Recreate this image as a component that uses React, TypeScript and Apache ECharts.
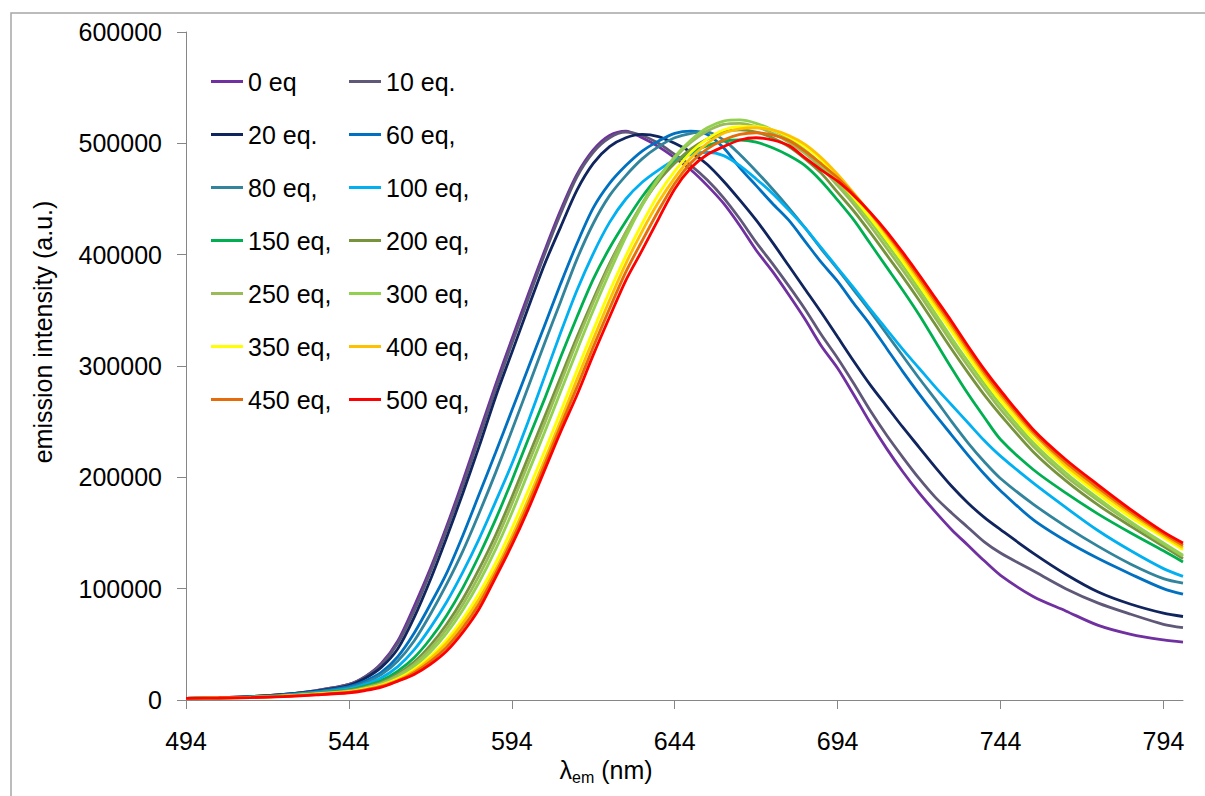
import React, { useEffect, useRef } from "react";
import * as echarts from "echarts";

const wavelengths = [494, 504, 514, 524, 534, 544, 549, 554, 559, 564, 569, 574, 579, 584, 589, 594, 599, 604, 609, 614, 619, 624, 629, 634, 639, 644, 649, 654, 659, 664, 669, 674, 679, 684, 689, 694, 699, 704, 709, 714, 719, 724, 729, 734, 739, 744, 754, 764, 774, 784, 794, 800];

const xTicks = [494, 544, 594, 644, 694, 744, 794];

const seriesNames = ["0 eq", "10 eq.", "20 eq.", "60 eq,", "80 eq,", "100 eq,", "150 eq,", "200 eq,", "250 eq,", "300 eq,", "350 eq,", "400 eq,", "450 eq,", "500 eq,"];
const seriesColors = ["#7030A0", "#5F5878", "#10255E", "#0070C0", "#31849B", "#00B0F0", "#00B050", "#77933C", "#9BBB59", "#92D050", "#FFFF00", "#FFC000", "#E46C0A", "#FF0000"];

const leftLegend = ["0 eq", "20 eq.", "80 eq,", "150 eq,", "250 eq,", "350 eq,", "450 eq,"];
const rightLegend = ["10 eq.", "60 eq,", "100 eq,", "200 eq,", "300 eq,", "400 eq,", "500 eq,"];

const eq0 = [1500, 2000, 3000, 5000, 8500, 14000, 21000, 33000, 53000, 84000, 118000, 156000, 197000, 240000, 283000, 324000, 364000, 403000, 440000, 472000, 494000, 507000, 511000, 505000, 497000, 487000, 476000, 462000, 446000, 426000, 404000, 385000, 364000, 342000, 318000, 298000, 274000, 249000, 226000, 205000, 186000, 169000, 153000, 139000, 125000, 112000, 93000, 80000, 67000, 59000, 54000, 52000];
const eq10 = [1500, 2000, 3000, 5000, 8500, 14000, 21000, 32000, 51000, 80000, 115000, 153000, 193000, 236000, 279000, 320000, 360000, 400000, 437000, 470000, 492000, 505000, 510000, 507000, 500000, 490000, 480000, 467000, 451000, 432000, 411000, 392000, 372000, 351000, 328000, 307000, 284000, 260000, 238000, 218000, 199000, 182000, 168000, 155000, 142000, 132000, 116000, 100000, 87000, 77000, 68000, 65000];
const eq20 = [1500, 2000, 3000, 5000, 8000, 13000, 19500, 29500, 46000, 74000, 108000, 146000, 186000, 228000, 272000, 312000, 352000, 391000, 425000, 458000, 482000, 497000, 505000, 508000, 506000, 500000, 492000, 481000, 466000, 449000, 431000, 411000, 390000, 369000, 348000, 326000, 304000, 283000, 264000, 245000, 227000, 209000, 192000, 177000, 164000, 153000, 132000, 113000, 97000, 86000, 78000, 75000];
const eq60 = [1500, 2000, 2800, 4500, 7500, 12000, 17000, 25000, 39000, 60000, 86000, 114000, 148000, 185000, 222000, 260000, 298000, 336000, 374000, 410000, 442000, 464000, 480000, 493000, 502000, 509000, 511000, 508000, 496000, 478000, 462000, 446000, 431000, 412000, 393000, 376000, 356000, 337000, 316000, 295000, 275000, 256000, 238000, 220000, 203000, 188000, 162000, 143000, 127000, 113000, 100000, 95000];
const eq80 = [1500, 2000, 2700, 4300, 7000, 11000, 15500, 23000, 35000, 53000, 77000, 104000, 134000, 168000, 204000, 242000, 281000, 320000, 358000, 396000, 428000, 453000, 471000, 486000, 497000, 505000, 509000, 510000, 503000, 490000, 475000, 459000, 442000, 424000, 405000, 387000, 368000, 349000, 329000, 309000, 289000, 270000, 250000, 231000, 214000, 199000, 176000, 156000, 138000, 122000, 109000, 105000];
const eq100 = [1500, 2000, 2600, 4000, 6500, 10000, 14000, 20000, 30000, 45000, 65000, 88000, 115000, 145000, 178000, 212000, 250000, 290000, 330000, 368000, 401000, 429000, 450000, 465000, 476000, 485000, 490000, 492000, 489000, 480000, 468000, 455000, 440000, 424000, 406000, 388000, 370000, 351000, 333000, 315000, 298000, 281000, 265000, 249000, 233000, 219000, 195000, 173000, 152000, 134000, 118000, 111000];
const eq150 = [1500, 1900, 2500, 3800, 6000, 9000, 12500, 17500, 26000, 38000, 55000, 76000, 101000, 130000, 162000, 197000, 234000, 270000, 308000, 344000, 378000, 406000, 430000, 452000, 470000, 483000, 492000, 498000, 502000, 503000, 501000, 496000, 489000, 480000, 466000, 449000, 431000, 410000, 389000, 368000, 346000, 322000, 298000, 275000, 254000, 234000, 207000, 186000, 167000, 150000, 134000, 124000];
const eq200 = [1500, 1900, 2500, 3700, 5800, 8500, 11500, 16000, 23500, 34000, 49000, 68000, 91000, 118000, 148000, 182000, 218000, 254000, 290000, 326000, 360000, 392000, 420000, 445000, 466000, 482000, 495000, 504000, 510000, 512000, 510000, 505000, 497000, 486000, 473000, 456000, 439000, 420000, 400000, 380000, 359000, 337000, 315000, 294000, 274000, 256000, 223000, 197000, 175000, 156000, 138000, 127000];
const eq250 = [1500, 1900, 2400, 3600, 5600, 8200, 11000, 15000, 22000, 32000, 46000, 64000, 86000, 112000, 142000, 176000, 212000, 248000, 285000, 322000, 357000, 390000, 420000, 446000, 469000, 487000, 501000, 511000, 517000, 518000, 515000, 509000, 501000, 491000, 478000, 462000, 445000, 426000, 406000, 386000, 365000, 343000, 321000, 300000, 280000, 261000, 228000, 201000, 179000, 159000, 140000, 129000];
const eq300 = [1500, 1900, 2400, 3500, 5400, 7800, 10500, 14200, 20500, 30000, 43000, 60000, 81000, 106000, 135000, 168000, 204000, 240000, 277000, 314000, 350000, 384000, 416000, 444000, 468000, 488000, 503000, 514000, 520000, 521000, 518000, 512000, 504000, 494000, 481000, 465000, 448000, 430000, 410000, 390000, 369000, 347000, 325000, 304000, 284000, 265000, 231000, 204000, 181000, 160000, 141000, 130000];
const eq350 = [1500, 1900, 2300, 3400, 5200, 7400, 10000, 13500, 19000, 27500, 39000, 54000, 73000, 96000, 123000, 154000, 188000, 223000, 259000, 296000, 332000, 367000, 399000, 428000, 454000, 475000, 492000, 504000, 512000, 515000, 515000, 512000, 506000, 497000, 485000, 468000, 451000, 433000, 414000, 394000, 373000, 352000, 331000, 309000, 288000, 269000, 235000, 208000, 185000, 164000, 146000, 135000];
const eq400 = [1500, 1900, 2300, 3300, 5000, 7200, 9600, 13000, 18000, 26000, 37000, 51000, 69000, 91000, 117000, 147000, 180000, 215000, 251000, 288000, 324000, 359000, 392000, 421000, 447000, 469000, 487000, 500000, 509000, 513000, 514000, 512000, 507000, 499000, 487000, 472000, 455000, 437000, 418000, 398000, 377000, 356000, 335000, 313000, 292000, 273000, 239000, 211000, 188000, 167000, 148000, 137000];
const eq450 = [1500, 1850, 2250, 3200, 4800, 6800, 9000, 12200, 17000, 24500, 34500, 47500, 65000, 86500, 113500, 143000, 175500, 210500, 246000, 281000, 317000, 351500, 384500, 412500, 439500, 464000, 482500, 495000, 503000, 508000, 509500, 507500, 502500, 493000, 481500, 469000, 454000, 437500, 419500, 400000, 379500, 358500, 337500, 315500, 294500, 275500, 241000, 213500, 190500, 169000, 149500, 139000];
const eq500 = [1500, 1800, 2200, 3100, 4600, 6500, 8500, 11500, 17000, 23000, 32000, 44000, 61000, 82000, 110000, 139000, 171000, 206000, 241000, 274000, 310000, 344000, 377000, 404000, 432000, 459000, 478000, 490000, 497000, 503000, 505000, 503000, 498000, 487000, 476000, 466000, 453000, 438000, 421000, 402000, 382000, 361000, 340000, 318000, 297000, 278000, 243000, 216000, 193000, 171000, 151000, 141000];

const seriesValues = [eq0, eq10, eq20, eq60, eq80, eq100, eq150, eq200, eq250, eq300, eq350, eq400, eq450, eq500];

const FONT = "'Liberation Sans', Arial, Helvetica, sans-serif";
const AXIS_GRAY = "#868686";

export default function App() {
  const ref = useRef<HTMLDivElement>(null);

  useEffect(() => {
    if (!ref.current) return;
    const chart = echarts.init(ref.current, undefined, { renderer: "svg" });

    const series = seriesNames.map((name, i) => ({
      name,
      type: "line",
      data: wavelengths.map((w, j) => [w, seriesValues[i][j]]),
      symbol: "none",
      showSymbol: false,
      smooth: 0.3,
      color: seriesColors[i],
      itemStyle: { color: seriesColors[i] },
      lineStyle: { color: seriesColors[i], width: 2.8 },
      z: 2 + i,
    }));

    const legendBase = {
      orient: "vertical",
      top: 69,
      padding: 0,
      itemWidth: 32,
      itemHeight: 3,
      itemGap: 28,
      icon: "rect",
      selectedMode: false,
      textStyle: { fontSize: 25, lineHeight: 25, color: "#000", fontFamily: FONT },
    };

    chart.setOption({
      animation: false,
      backgroundColor: "#ffffff",
      grid: { left: 186, top: 32, right: 22, bottom: 96, containLabel: false, outerBoundsMode: "none" },
      legend: [
        { ...legendBase, left: 211, data: leftLegend },
        { ...legendBase, left: 349, data: rightLegend },
      ],
      xAxis: {
        type: "value",
        min: 494,
        max: 800,
        interval: 50,
        name: "{l|λ}{s|em}{l| (nm)}",
        nameLocation: "middle",
        nameGap: 52,
        nameTextStyle: {
          padding: [0, 157, 0, 0],
          rich: {
            l: { fontSize: 25, lineHeight: 30, fontFamily: FONT, color: "#000" },
            s: { fontSize: 16, lineHeight: 16, fontFamily: FONT, color: "#000", verticalAlign: "bottom" },
          },
        },
        axisLine: { show: true, onZero: false, lineStyle: { color: AXIS_GRAY, width: 1 } },
        axisTick: { show: true, inside: false, length: 9, customValues: xTicks, lineStyle: { color: AXIS_GRAY } },
        axisLabel: {
          customValues: xTicks,
          fontSize: 25,
          fontFamily: FONT,
          color: "#000",
          margin: 28,
        },
        splitLine: { show: false },
      },
      yAxis: {
        type: "value",
        min: 0,
        max: 600000,
        interval: 100000,
        name: "emission intensity (a.u.)",
        nameLocation: "middle",
        nameGap: 131,
        nameTextStyle: { fontSize: 25, fontFamily: FONT, color: "#000", padding: [0, 0, 0, 68] },
        axisLine: { show: true, lineStyle: { color: AXIS_GRAY, width: 1 } },
        axisTick: { show: true, inside: false, length: 9, lineStyle: { color: AXIS_GRAY } },
        axisLabel: {
          fontSize: 25,
          fontFamily: FONT,
          color: "#000",
          margin: 24,
          formatter: (v: number) => String(v),
        },
        splitLine: { show: false },
      },
      graphic: [
        {
          type: "rect",
          silent: true,
          z: -10,
          shape: { x: 11, y: 13, width: 1260, height: 860 },
          style: { fill: "none", stroke: "#a6a6a6", lineWidth: 1.5 },
        },
      ],
      series,
    });

    return () => chart.dispose();
  }, []);

  return (
    <div
      ref={ref}
      style={{ position: "absolute", left: 0, top: 0, width: 1205, height: 796, background: "#fff" }}
    />
  );
}
